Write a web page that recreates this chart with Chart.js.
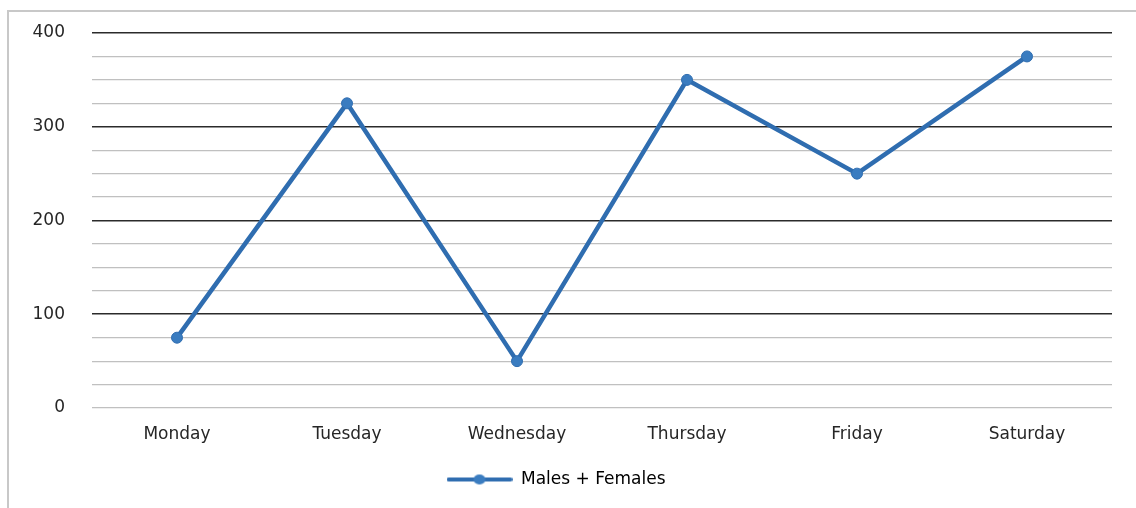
<!DOCTYPE html>
<html>
<head>
<meta charset="utf-8">
<script src="https://cdn.jsdelivr.net/npm/chart.js@4.4.1/dist/chart.umd.min.js"></script>
<style>
  html, body { margin: 0; padding: 0; background: #fff; }
  #wrap { width: 1136px; height: 508px; position: relative; }
</style>
</head>
<body>
<div id="wrap"><canvas id="visitorsChart"></canvas></div>
<script>
var days = ['Monday', 'Tuesday', 'Wednesday', 'Thursday', 'Friday', 'Saturday'];
var visitors = [75, 325, 50, 350, 250, 375];
var seriesName = 'Males + Females';
var yMin = 0, yMax = 400, yStep = 25, yLabelStep = 100;

var lineBlue = '#2f6db0';
var pointBlue = '#3a7cc0';

// legend marker: line with a dot in the middle, like the office chart
var marker = document.createElement('canvas');
marker.width = 66;
marker.height = 14;
var mctx = marker.getContext('2d');
mctx.strokeStyle = lineBlue;
mctx.lineWidth = 4;
mctx.lineCap = 'round';
mctx.beginPath();
mctx.moveTo(2, 7);
mctx.lineTo(64, 7);
mctx.stroke();
mctx.fillStyle = pointBlue;
mctx.beginPath();
mctx.ellipse(33, 7, 6, 5, 0, 0, Math.PI * 2);
mctx.fill();

var frame = {
    id: 'frame',
    beforeDraw: function (chart) {
        var ctx = chart.ctx;
        ctx.save();
        ctx.strokeStyle = '#c8c8c8';
        ctx.lineWidth = 2;
        ctx.beginPath();
        ctx.moveTo(8, 508);
        ctx.lineTo(8, 11);
        ctx.lineTo(1136, 11);
        ctx.stroke();
        ctx.restore();
    }
};

Chart.defaults.font.family = '"DejaVu Sans", Verdana, sans-serif';
Chart.defaults.font.size = 17;
Chart.defaults.color = '#262626';

var chart = new Chart(document.getElementById('visitorsChart'), {
    type: 'line',
    data: {
        labels: days,
        datasets: [{
            label: seriesName,
            data: visitors,
            borderColor: lineBlue,
            backgroundColor: pointBlue,
            borderWidth: 4.5,
            tension: 0,
            pointRadius: 5.5,
            pointBackgroundColor: pointBlue,
            pointBorderColor: lineBlue,
            pointBorderWidth: 1,
            pointStyle: 'circle'
        }]
    },
    options: {
        responsive: true,
        maintainAspectRatio: false,
        animation: false,
        layout: { padding: { top: 33, right: 24, left: 0, bottom: 10 } },
        plugins: {
            tooltip: { enabled: false },
            legend: {
                position: 'bottom',
                labels: {
                    usePointStyle: true,
                    pointStyleWidth: 66,
                    padding: 10,
                    color: '#1a1a1a',
                    generateLabels: function (chart) {
                        return chart.data.datasets.map(function (ds, i) {
                            return {
                                text: ds.label,
                                pointStyle: marker,
                                fillStyle: pointBlue,
                                strokeStyle: lineBlue,
                                lineWidth: 0,
                                hidden: false,
                                datasetIndex: i
                            };
                        });
                    }
                }
            }
        },
        scales: {
            x: {
                offset: true,
                grid: { display: false, drawTicks: false },
                border: { display: false },
                ticks: { padding: 16, color: '#262626' },
                afterFit: function (scale) { scale.height = 53; }
            },
            y: {
                min: yMin,
                max: yMax,
                border: { display: false },
                grid: {
                    drawTicks: false,
                    lineWidth: function (c) {
                        return (c.tick && c.tick.value % yLabelStep === 0 && c.tick.value !== 0) ? 1.6 : 1.2;
                    },
                    color: function (c) {
                        return (c.tick && c.tick.value % yLabelStep === 0 && c.tick.value !== 0) ? '#2b2b2b' : '#c0c0c0';
                    }
                },
                ticks: {
                    stepSize: yStep,
                    autoSkip: false,
                    padding: 27,
                    color: '#262626',
                    callback: function (v) { return v % yLabelStep === 0 ? v : ''; }
                },
                afterFit: function (scale) {
                    scale.width = 92;
                    scale.paddingTop = 0;
                    scale.paddingBottom = 0;
                }
            }
        }
    },
    plugins: [frame]
});
</script>
</body>
</html>
